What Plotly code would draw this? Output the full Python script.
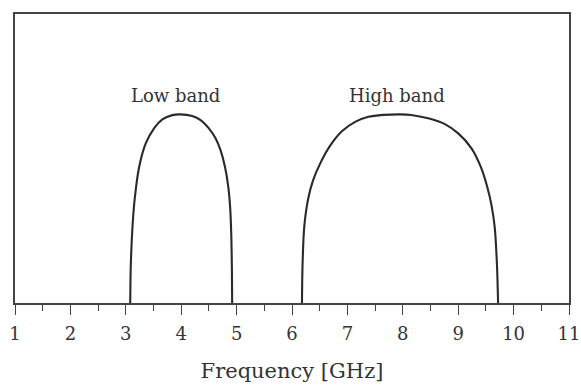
import plotly.graph_objects as go

# Relative response of the two bands versus frequency (GHz)
low_freq = [3.08, 3.09, 3.12, 3.16, 3.24, 3.36, 3.51, 3.66, 3.84, 3.98,
            4.20, 4.35, 4.50, 4.62, 4.71, 4.79, 4.85, 4.885, 4.905, 4.915, 4.92]
low_level = [0.0, 0.20, 0.40, 0.55, 0.72, 0.846, 0.926, 0.973, 0.996, 1.0,
             0.991, 0.970, 0.926, 0.873, 0.810, 0.722, 0.616, 0.50, 0.35, 0.18, 0.0]

high_freq = [6.18, 6.19, 6.22, 6.29, 6.38, 6.51, 6.68, 6.90, 7.14, 7.38, 7.65,
             7.95, 8.15, 8.46, 8.76, 9.00, 9.24, 9.41, 9.52, 9.60, 9.66, 9.70, 9.72]
high_level = [0.0, 0.20, 0.40, 0.55, 0.65, 0.74, 0.83, 0.91, 0.96, 0.987, 0.997,
              1.0, 0.997, 0.979, 0.948, 0.899, 0.820, 0.72, 0.62, 0.52, 0.40, 0.20, 0.0]

band_labels = ["Low band", "High band"]
label_freq = [3.89, 7.90]
label_level = [1.10, 1.10]

x_ticks = list(range(1, 12))

SERIF = "DejaVu Serif"
INK = "#2a2a2a"

fig = go.Figure()
for f, lv in ((low_freq, low_level), (high_freq, high_level)):
    fig.add_trace(go.Scatter(
        x=f, y=lv, mode="lines",
        line=dict(color=INK, width=2.1, shape="spline", smoothing=0.8),
        showlegend=False, hoverinfo="skip",
    ))

for txt, fx, ly in zip(band_labels, label_freq, label_level):
    fig.add_annotation(x=fx, y=ly, text=txt, showarrow=False,
                       xanchor="center", yanchor="middle",
                       font=dict(family=SERIF, size=18, color="#333333"))

fig.update_layout(
    width=581, height=385,
    margin=dict(l=15, r=12, t=14, b=82, autoexpand=False),
    paper_bgcolor="white", plot_bgcolor="white",
    showlegend=False,
    font=dict(family=SERIF),
)
fig.update_xaxes(
    range=[1, 11], tickvals=x_ticks, ticktext=[str(t) for t in x_ticks],
    showgrid=False, zeroline=False, automargin=False,
    showline=True, linecolor="#444444", linewidth=1.5, mirror=True,
    ticks="outside", ticklen=10, tickwidth=1.3, tickcolor="#444444",
    minor=dict(dtick=0.5, tick0=1, ticks="outside", ticklen=6,
               tickwidth=1.2, tickcolor="#444444", showgrid=False),
    ticklabeloverflow="allow", ticklabelstandoff=4,
    tickfont=dict(family=SERIF, size=18, color="#333333"),
    title=dict(text="Frequency [GHz]", standoff=20,
               font=dict(family=SERIF, size=21, color="#333333")),
)
fig.update_yaxes(
    range=[0, 1.532], showticklabels=False, ticks="",
    showgrid=False, zeroline=False, automargin=False,
    showline=True, linecolor="#444444", linewidth=1.5, mirror=True,
)

fig.write_html("out.html")
